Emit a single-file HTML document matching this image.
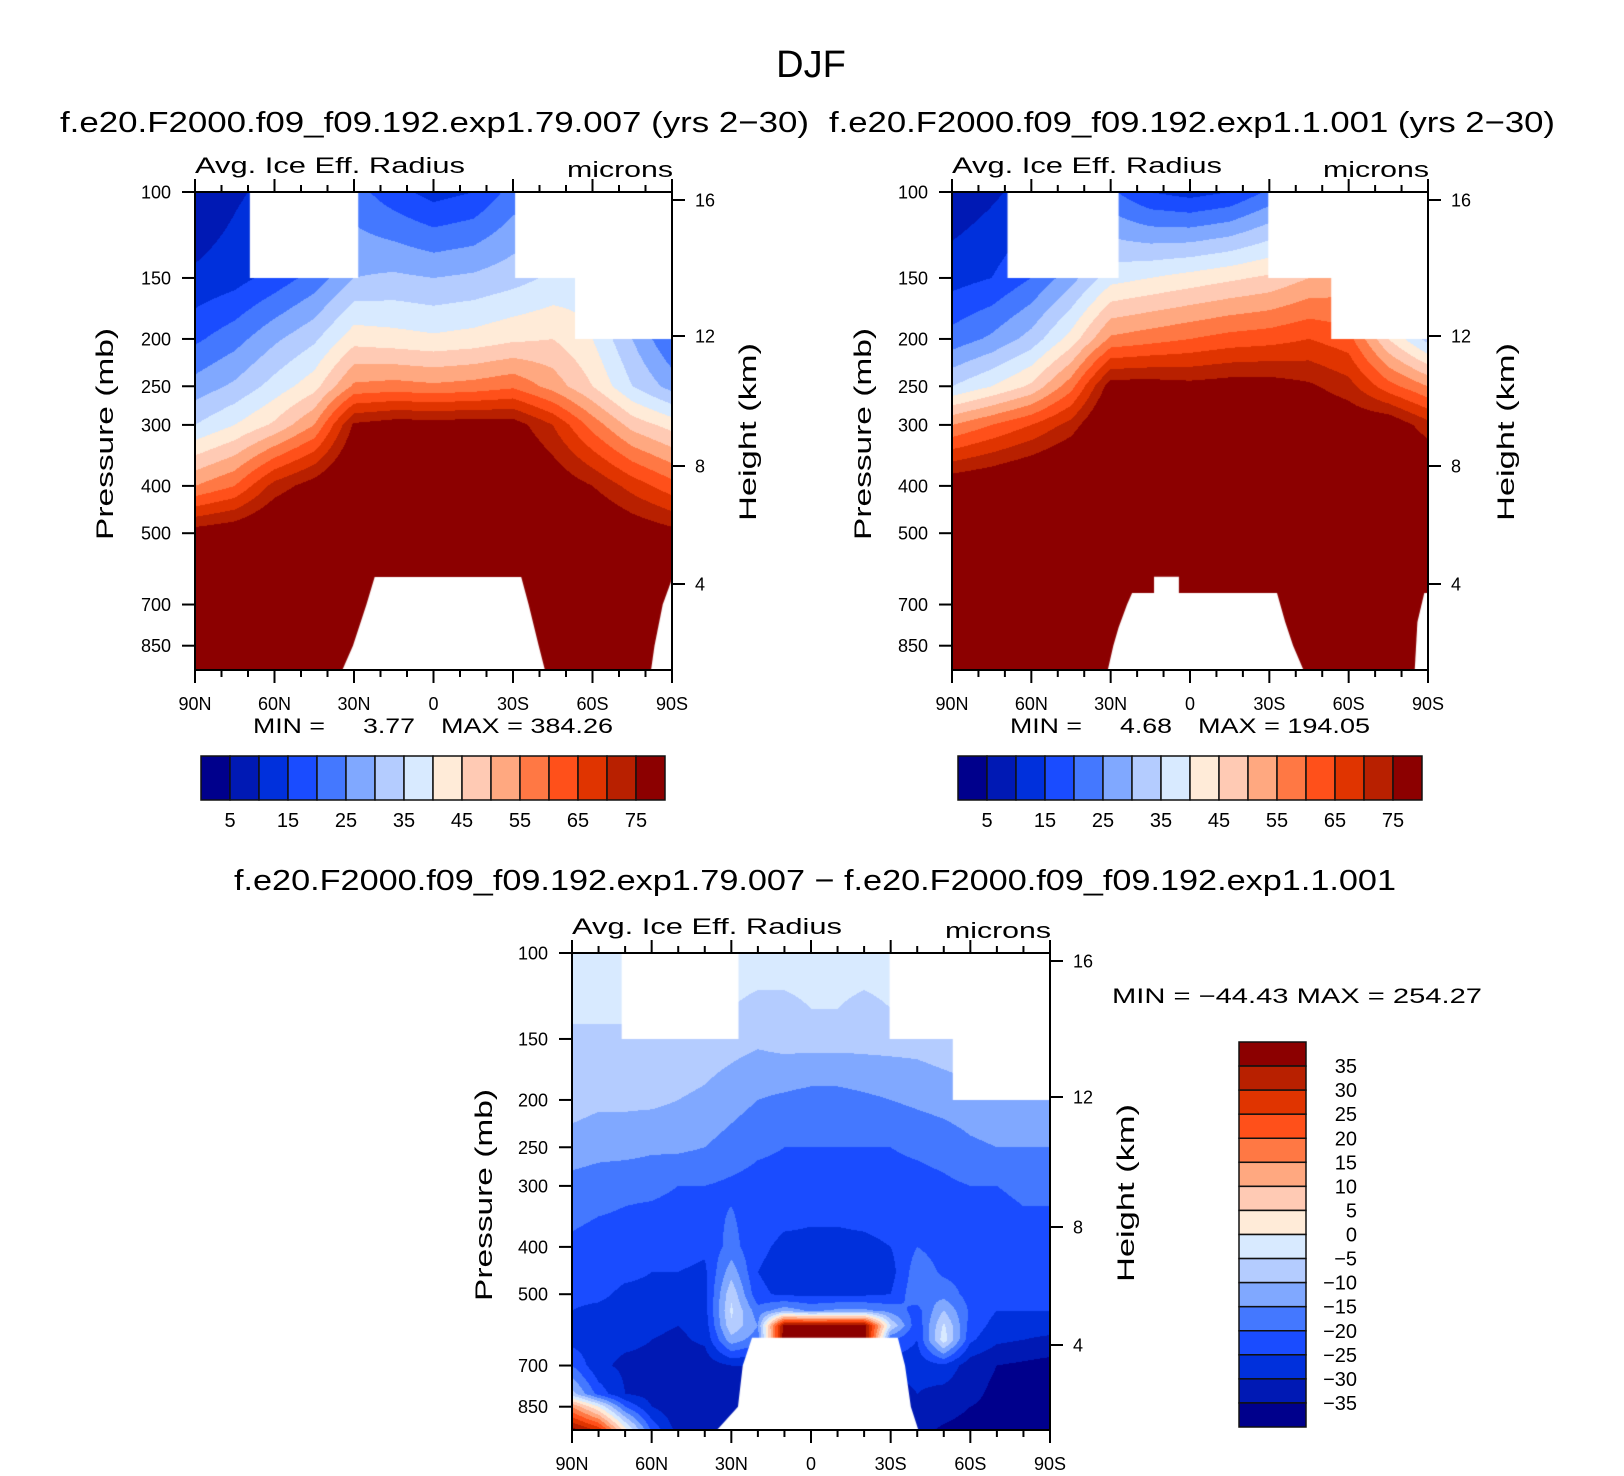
<!DOCTYPE html>
<html><head><meta charset="utf-8"><title>DJF Avg. Ice Eff. Radius</title>
<style>
html,body{margin:0;padding:0;background:#fff;}
#wrap{position:relative;width:1624px;height:1476px;overflow:hidden;font-family:"Liberation Sans",sans-serif;}
canvas{position:absolute;}
svg{position:absolute;left:0;top:0;}
svg text{font-family:"Liberation Sans",sans-serif;fill:#000;}
</style></head>
<body>
<div id="wrap">
<canvas id="c1" width="477" height="478" style="left:195px;top:192px"></canvas>
<canvas id="c2" width="476" height="478" style="left:952px;top:192px"></canvas>
<canvas id="c3" width="478" height="477" style="left:572px;top:953px"></canvas>
<svg id="s" width="1624" height="1476">
<text x="811" y="77" font-size="38" text-anchor="middle">DJF</text>
<text x="60" y="132" font-size="29" textLength="749" lengthAdjust="spacingAndGlyphs">f.e20.F2000.f09_f09.192.exp1.79.007 (yrs 2−30)</text>
<text x="829" y="132" font-size="29" textLength="726" lengthAdjust="spacingAndGlyphs">f.e20.F2000.f09_f09.192.exp1.1.001 (yrs 2−30)</text>
<text x="234" y="890" font-size="29" textLength="1162" lengthAdjust="spacingAndGlyphs">f.e20.F2000.f09_f09.192.exp1.79.007 − f.e20.F2000.f09_f09.192.exp1.1.001</text>
<text x="253" y="733" font-size="21" textLength="72" lengthAdjust="spacingAndGlyphs">MIN =</text>
<text x="363" y="733" font-size="21" textLength="52" lengthAdjust="spacingAndGlyphs">3.77</text>
<text x="441" y="733" font-size="21" textLength="172" lengthAdjust="spacingAndGlyphs">MAX = 384.26</text>
<text x="1010" y="733" font-size="21" textLength="72" lengthAdjust="spacingAndGlyphs">MIN =</text>
<text x="1120" y="733" font-size="21" textLength="52" lengthAdjust="spacingAndGlyphs">4.68</text>
<text x="1198" y="733" font-size="21" textLength="172" lengthAdjust="spacingAndGlyphs">MAX = 194.05</text>
<text x="1112" y="1003" font-size="21" textLength="370" lengthAdjust="spacingAndGlyphs">MIN  =  −44.43    MAX  =  254.27</text>
</svg>
</div>
<script>
// ---------- data ----------
const colors=['#00008c','#0019b4','#0030dc','#1a4cff','#4478ff','#80a8ff','#b4ccff','#d8eaff','#ffebd8','#ffcab4','#ffa880','#ff7844','#ff501a','#e03400','#b82000','#8c0000'];
const lats13=[90,75,60,45,30,15,0,-15,-30,-45,-60,-75,-90];
const pres12=[100,150,200,250,300,400,500,700,850,960];
const p1Values=[
[5,9,12,16,22,17,13,15,22,22,24,26,28],
[11,13,17,22,30,31,30,31,33,36,38,40,42],
[19,23,29,34,43,42,41,42,44,45,40,30,20],
[27,31,37,43,56,57,56,57,59,53,45,35,28],
[35,40,46,55,76,78,78,78,78,70,58,48,43],
[55,60,72,78,85,86,86,86,85,80,75,68,62],
[78,80,84,86,90,90,90,90,90,88,84,80,77],
[90,90,90,90,90,90,90,90,90,90,90,90,90],
[90,90,90,90,90,90,90,90,90,90,90,90,90],
[90,90,90,90,90,90,90,90,90,90,90,90,90]];
const p2Values=[
[6,9,12,16,21,15,13,15,21,22,24,26,28],
[13,15,20,28,38,40,42,44,46,50,52,50,45],
[22,26,32,42,56,58,60,62,63,65,62,45,33],
[35,40,46,58,78,78,77,78,78,76,72,62,55],
[55,60,65,72,85,85,85,85,85,82,80,80,72],
[80,82,85,88,90,90,90,90,90,90,88,86,85],
[90,90,90,90,90,90,90,90,90,90,90,90,90],
[90,90,90,90,90,90,90,90,90,90,90,90,90],
[90,90,90,90,90,90,90,90,90,90,90,90,90],
[90,90,90,90,90,90,90,90,90,90,90,90,90]];
const lats19=[90,80,70,60,50,40,30,20,10,0,-10,-20,-30,-40,-50,-60,-70,-80,-90];
const pres15=[100,130,150,200,250,300,400,450,500,540,580,620,700,800,850,960];
const p3Values=[
[-3,-3,-3,-3,-3,-3,-3,-3,-3,-3,-3,-3,-3,-3,-3,-3,-3,-3,-3],
[-4,-4,-4,-4,-4,-4,-5,-6,-6,-5,-5,-6,-5,-4,-4,-4,-4,-4,-4],
[-6,-6,-6,-6,-6,-7,-8,-9,-8,-8,-8,-8,-8,-8,-7,-6,-6,-6,-6],
[-8,-9,-9,-9,-10,-11,-13,-15,-16,-17,-17,-16,-15,-14,-13,-12,-11,-11,-12],
[-12,-13,-13,-14,-14,-15,-17,-19,-20,-20,-20,-20,-20,-19,-18,-16,-15,-15,-15],
[-17,-18,-19,-19,-20,-20,-21,-22,-22,-23,-23,-22,-22,-22,-21,-20,-20,-19,-19],
[-21,-22,-22,-23,-23,-24,-18,-24,-26,-26,-26,-26,-25,-20,-22,-23,-23,-22,-22],
[-23,-23,-24,-25,-25,-26,-12,-25,-27,-29,-29,-28,-27,-17,-21,-22,-23,-23,-23],
[-24,-24,-26,-26,-27,-27,-6,-24,-26,-26,-26,-26,-25,-16,-17,-22,-24,-24,-24],
[-25,-26,-27,-28,-28,-27,-4,-18,-12,-16,-14,-14,-17,-22,-10,-21,-25,-25,-25],
[-26,-27,-28,-29,-30,-28,-6,-15,38,38,38,38,-5,-24,-4,-22,-27,-28,-28],
[-27,-28,-29,-30,-31,-29,-12,-18,40,40,40,40,-20,-25,-2,-24,-29,-30,-31],
[-20,-29,-31,-31,-32,-33,-30,-30,-30,-30,-30,-30,-28,-28,-26,-33,-35,-36,-37],
[-8,-22,-30,-32,-33,-34,-33,-33,-33,-33,-33,-33,-33,-30,-32,-34,-36,-37,-37],
[15,0,-20,-30,-34,-34,-33,-33,-33,-33,-33,-33,-33,-31,-33,-35,-36,-37,-37],
[40,32,5,-20,-32,-34,-33,-33,-33,-33,-33,-33,-33,-34,-36,-37,-37,-37,-37]];
// missing-data regions as [lat,p] outlines
const mask1=[
[[69.3,100],[28.4,100],[28.4,150],[69.3,150]],
[[-30.8,100],[-91,100],[-91,150],[-30.8,150]],
[[-53.4,149],[-91,149],[-91,200],[-53.4,200]],
[[22.2,615],[-33.1,615],[-35.9,700],[-39.7,850],[-42.4,970],[35,970],[30.4,850],[25.3,700]],
[[-91,600],[-86.5,700],[-83.4,850],[-81.9,970],[-91,970]]];
const mask2=[
[[69,100],[27,100],[27,150],[69,150]],
[[-29.6,100],[-91,100],[-91,150],[-29.6,150]],
[[-53.4,149],[-91,149],[-91,200],[-53.4,200]],
[[13.6,614],[4.2,614],[4.2,663],[13.6,663]],
[[21.9,663],[-32.9,663],[-36,760],[-39,850],[-43.5,970],[31.4,970],[29,850],[27,780],[23.8,700]],
[[-91,663],[-88.6,663],[-86,760],[-84.9,970],[-91,970]]];
const mask3=[
[[71.3,100],[27.3,100],[27.3,150],[71.3,150]],
[[-29.6,100],[-91,100],[-91,150],[-29.6,150]],
[[-53.4,149],[-91,149],[-91,200],[-53.4,200]],
[[22.2,614],[-32.7,614],[-35.4,700],[-37.6,850],[-41,970],[37,970],[27.5,850],[25.7,700]]];
const latTicks=[90,80,70,60,50,40,30,20,10,0,-10,-20,-30,-40,-50,-60,-70,-80,-90];
const latLabels={'90':'90N','60':'60N','30':'30N','0':'0','-30':'30S','-60':'60S','-90':'90S'};
const presTicks=[100,150,200,250,300,400,500,700,850];
const heightTicks=[16,12,8,4];
const heightOffsets=[8,144,274,392];
const cbLabels1=['5','15','25','35','45','55','65','75'];
const cbLabels3=['35','30','25','20','15','10','5','0','−5','−10','−15','−20','−25','−30','−35'];
const PPX=212; // pixels per ln(p) unit

function interp(lats,ps,grid,lat,p){
  const lp=Math.log(p);
  let i=0; while(i<lats.length-2 && lat<lats[i+1]) i++;
  let j=0; while(j<ps.length-2 && lp>Math.log(ps[j+1])) j++;
  let fx=(lats[i]-lat)/(lats[i]-lats[i+1]); fx=Math.max(0,Math.min(1,fx));
  let fy=(lp-Math.log(ps[j]))/(Math.log(ps[j+1])-Math.log(ps[j])); fy=Math.max(0,Math.min(1,fy));
  const a=grid[j][i],b=grid[j][i+1],c=grid[j+1][i],d=grid[j+1][i+1];
  return (a*(1-fx)+b*fx)*(1-fy)+(c*(1-fx)+d*fx)*fy;
}
function hex(h){return [parseInt(h.substr(1,2),16),parseInt(h.substr(3,2),16),parseInt(h.substr(5,2),16)];}
const rgb=colors.map(hex);
function render(id,lats,ps,grid,offset,masks){
  const cv=document.getElementById(id),ctx=cv.getContext('2d');
  const W=cv.width,H=cv.height,img=ctx.createImageData(W,H);
  for(let y=0;y<H;y++){
    const p=100*Math.exp((y+0.5)/PPX);
    for(let x=0;x<W;x++){
      const lat=90-180*(x+0.5)/W;
      const v=interp(lats,ps,grid,lat,p);
      let k=Math.floor(v/5)+offset; k=Math.max(0,Math.min(15,k));
      const c=rgb[k],o=(y*W+x)*4;
      img.data[o]=c[0];img.data[o+1]=c[1];img.data[o+2]=c[2];img.data[o+3]=255;
    }
  }
  ctx.putImageData(img,0,0);
  ctx.fillStyle='#fff';
  masks.forEach(poly=>{
    ctx.beginPath();
    poly.forEach((pt,n)=>{
      const x=(90-pt[0])/180*W, y=Math.log(pt[1]/100)*PPX;
      if(n===0) ctx.moveTo(x,y); else ctx.lineTo(x,y);
    });
    ctx.closePath(); ctx.fill();
  });
}
render('c1',lats13,pres12,p1Values,0,mask1);
render('c2',lats13,pres12,p2Values,0,mask2);
render('c3',lats19,pres15,p3Values,8,mask3);

// ---------- axes ----------
const svg=document.getElementById('s'),NS='http://www.w3.org/2000/svg';
function mk(tag,parent){const e=document.createElementNS(NS,tag);(parent||svg).appendChild(e);return e;}
function line(x1,y1,x2,y2,w,g){const l=mk('line',g);l.setAttribute('x1',x1);l.setAttribute('y1',y1);l.setAttribute('x2',x2);l.setAttribute('y2',y2);l.setAttribute('stroke','#000');l.setAttribute('stroke-width',w);return l;}
function txt(x,y,s,size,anchor,g){const t=mk('text',g);t.setAttribute('x',x);t.setAttribute('y',y);t.setAttribute('font-size',size);t.setAttribute('text-anchor',anchor||'start');t.textContent=s;return t;}

function axes(name,X,Y,W,H,plx,hlx){
  const g=mk('g');
  
  
  const r=mk('rect',g);r.setAttribute('x',X);r.setAttribute('y',Y);r.setAttribute('width',W);r.setAttribute('height',H);r.setAttribute('fill','none');r.setAttribute('stroke','#000');r.setAttribute('stroke-width',2);
  
  
  latTicks.forEach(lat=>{
    const x=X+(90-lat)/180*W, major=(lat%30===0), L=major?13:7;
    const t1=line(x,Y,x,Y-L,2,g);
    
    
    const t2=line(x,Y+H,x,Y+H+L,2,g);
    
    
    if(major){
      const lb=txt(x,Y+H+40,latLabels[String(lat)],18,'middle',g);
      
      
    }
  });
  presTicks.forEach(p=>{
    const y=Y+Math.log(p/100)*PPX;
    const t=line(X-13,y,X,y,2,g);
    
    
    const lb=txt(X-24,y+6.5,String(p),18,'end',g);
    
    
  });
  heightTicks.forEach((h,n)=>{
    const y=Y+heightOffsets[n];
    const t=line(X+W,y,X+W+13,y,2,g);
    
    
    const lb=txt(X+W+23,y+6.5,String(h),18,'start',g);
    
    
  });
  const a=txt(X,Y-19,'Avg. Ice Eff. Radius',22,'start',g);
  a.setAttribute('textLength',270);a.setAttribute('lengthAdjust','spacingAndGlyphs');
  
  
  const m=txt(X+W+1,Y-15,'microns',22,'end',g);
  m.setAttribute('textLength',106);m.setAttribute('lengthAdjust','spacingAndGlyphs');
  
  
  const py=Y+242;
  const pl=txt(0,0,'Pressure (mb)',24,'middle',g);
  pl.setAttribute('transform','translate('+(plx+9)+','+py+') rotate(-90)');
  pl.setAttribute('textLength',212);pl.setAttribute('lengthAdjust','spacingAndGlyphs');
  
  
  const hl=txt(0,0,'Height (km)',24,'middle',g);
  hl.setAttribute('transform','translate('+(hlx+9)+','+(Y+240)+') rotate(-90)');
  hl.setAttribute('textLength',178);hl.setAttribute('lengthAdjust','spacingAndGlyphs');
  
  
}
axes('panel1',195,192,477,478,104,747);
axes('panel2',952,192,476,478,862,1505);
axes('panel3',572,953,478,477,483,1125);

function hbar(name,X,Y,W,H){
  const g=mk('g');
  
  
  const cw=W/colors.length;
  colors.forEach((c,n)=>{
    const r=mk('rect',g);r.setAttribute('x',X+n*cw);r.setAttribute('y',Y);r.setAttribute('width',cw);r.setAttribute('height',H);r.setAttribute('fill',c);r.setAttribute('stroke','#111');r.setAttribute('stroke-width',1.5);
    
    
  });
  cbLabels1.forEach((s,n)=>{
    const t=txt(X+(2*n+1)*cw,Y+H+27,s,20,'middle',g);
    
    
  });
}
hbar('panel1-colorbar',201,756,464,44);
hbar('panel2-colorbar',958,756,464,44);

(function(){
  const g=mk('g');
  
  
  const X=1239,Y=1042,W=67,H=385,ch=H/colors.length;
  colors.slice().reverse().forEach((c,n)=>{
    const r=mk('rect',g);r.setAttribute('x',X);r.setAttribute('y',Y+n*ch);r.setAttribute('width',W);r.setAttribute('height',ch);r.setAttribute('fill',c);r.setAttribute('stroke','#111');r.setAttribute('stroke-width',1.5);
    
    
  });
  cbLabels3.forEach((s,n)=>{
    const t=txt(1357,Y+(n+1)*ch+7,s,20,'end',g);
    
    
  });
})();
</script>
</body></html>
